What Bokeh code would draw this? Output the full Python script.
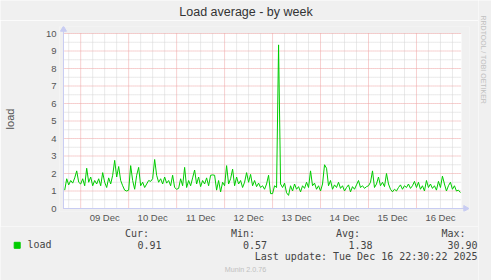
import math
import pandas as pd
from bokeh.plotting import figure
from bokeh.models import FixedTicker, Range1d, ColumnDataSource, GridBox
from bokeh.core.properties import value
from bokeh.embed import file_html
from bokeh.resources import INLINE

# ---------------- data (hourly load average) ----------------
start_time = "2025-12-08 16:00"
load_dec08 = [1.05, 1.7, 1.35, 1.6, 1.45, 1.75, 2.15, 1.5]
load_dec09 = [1.4, 1.7, 1.3, 2.3, 1.5, 1.8, 1.3, 1.6, 1.4, 1.7, 1.3, 2.05,
              1.5, 1.2, 1.75, 1.4, 1.9, 2.75, 1.8, 2.4, 1.6, 1.3, 1.05, 1.0]
load_dec10 = [1.05, 2.45, 1.6, 1.1, 1.9, 2.35, 1.3, 1.5, 1.2, 1.4, 1.6, 1.55,
              1.7, 2.8, 1.9, 1.5, 1.7, 1.4, 1.8, 1.45, 1.6, 1.3, 1.9, 1.2]
load_dec11 = [1.1, 1.15, 1.7, 1.3, 2.35, 1.2, 1.6, 1.3, 1.75, 2.2, 1.4, 1.8,
              1.25, 1.6, 1.4, 1.75, 1.3, 1.9, 1.92, 1.9, 1.05, 1.6, 0.95, 1.5]
load_dec12 = [1.3, 2.45, 1.4, 1.7, 2.25, 1.3, 1.8, 1.4, 1.6, 1.2, 1.5, 2.05,
              1.5, 1.95, 1.3, 1.6, 1.25, 1.45, 1.2, 1.3, 1.1, 1.4, 1.9, 0.85]
load_dec13 = [0.85, 1.3, 1.2, 9.35, 1.4, 1.2, 1.45, 0.9, 0.75, 1.3, 1.0, 1.4,
              1.1, 1.25, 0.95, 1.3, 1.15, 1.5, 1.2, 2.15, 1.3, 1.45, 1.1, 1.3]
load_dec14 = [1.0, 1.4, 2.5, 2.3, 1.3, 1.6, 1.1, 1.35, 1.2, 1.5, 1.15, 1.3,
              1.0, 1.2, 1.35, 0.95, 1.25, 1.1, 1.35, 1.6, 1.2, 1.3, 1.15, 1.25]
load_dec15 = [1.3, 1.5, 2.15, 1.2, 1.4, 1.8, 1.3, 1.5, 1.25, 2.0, 1.4, 1.1,
              0.95, 1.1, 1.0, 1.2, 1.35, 1.1, 1.3, 1.2, 1.4, 1.15, 1.3, 1.55]
load_dec16 = [1.2, 1.5, 1.1, 1.3, 1.0, 1.6, 1.2, 1.4, 1.15, 1.3, 1.05, 1.55,
              1.2, 1.85, 1.4, 1.0, 1.3, 1.5, 1.1, 1.3, 1.0, 1.05, 0.91]

day_dates = ["2025-12-09", "2025-12-10", "2025-12-11", "2025-12-12",
             "2025-12-13", "2025-12-14", "2025-12-15", "2025-12-16"]
day_labels = ["09 Dec", "10 Dec", "11 Dec", "12 Dec", "13 Dec", "14 Dec", "15 Dec", "16 Dec"]
y_ticks = [0, 1, 2, 3, 4, 5, 6, 7, 8, 9, 10]
y_minor = [0.5, 1.5, 2.5, 3.5, 4.5, 5.5, 6.5, 7.5, 8.5, 9.5]

view_start = "2025-12-08 15:23"
view_end = "2025-12-16 22:33"

legend_name = "load"
stat_names = ["Cur:", "Min:", "Avg:", "Max:"]
stat_values = ["0.91", "0.57", "1.38", "30.90"]
title_text = "Load average - by week"
last_update = "Last update: Tue Dec 16 22:30:22 2025"
footer = "Munin 2.0.76"
side_text = "RRDTOOL / TOBI OETIKER"

# ---------------- build ----------------
BG = "#f0f0f0"
AX = "#c8ccf2"
TXT = "#555555"
GREEN = "#00cc00"
RED_GRID = "#eea0a0"
GRAY_GRID = "#d4d4d4"


def ms(ts):
    return pd.Timestamp(ts).value / 1e6


def text_fig(w, h):
    f = figure(width=w, height=h, output_backend="svg", toolbar_location=None,
               x_range=Range1d(0, w), y_range=Range1d(h, 0),
               x_axis_type=None, y_axis_type=None, frame_align=False,
               min_border_left=0, min_border_right=0, min_border_top=0, min_border_bottom=0)
    f.grid.visible = False
    f.outline_line_color = None
    f.border_fill_color = BG
    f.background_fill_color = BG
    return f


HOUR = 3600 * 1000.0
values = (load_dec08 + load_dec09 + load_dec10 + load_dec11 + load_dec12 +
          load_dec13 + load_dec14 + load_dec15 + load_dec16)
x = [ms(start_time) + i * HOUR for i in range(len(values))]
src = ColumnDataSource(dict(x=x, y=values))

LEFT_W = 478
x0, x1 = ms(view_start), ms(view_end)
PX = (x1 - x0) / 400.0      # ms per pixel
PY = 1 / 17.5               # load units per pixel
p = figure(width=LEFT_W, height=206, output_backend="svg", toolbar_location=None,
           x_range=Range1d(x0 - 4 * PX, x1 + 8 * PX),
           y_range=Range1d(-3 * PY, 10 + 7 * PY), frame_align=False,
           min_border_left=57, min_border_right=9, min_border_top=6, min_border_bottom=15)
p.border_fill_color = BG
p.background_fill_color = BG
p.outline_line_color = None
p.xgrid.visible = False
p.ygrid.visible = False

# white plotting area
p.quad(left=[x0], right=[x1], bottom=[0], top=[10], fill_color="#ffffff", line_color=None)

# grid lines
mid = [ms(d) for d in day_dates]
six = [ms("2025-12-08 18:00") + i * 6 * HOUR for i in range(34)]
six = [t for t in six if t not in mid and x0 < t < x1]
p.segment(x0=six, x1=six, y0=[0] * len(six), y1=[10] * len(six),
          line_color=GRAY_GRID, line_dash="1 1", line_width=1)
p.segment(x0=[x0] * len(y_minor), x1=[x1] * len(y_minor), y0=y_minor, y1=y_minor,
          line_color=GRAY_GRID, line_dash="1 1", line_width=1)
p.segment(x0=mid, x1=mid, y0=[0] * len(mid), y1=[10] * len(mid),
          line_color=RED_GRID, line_dash="1 1", line_width=1)
p.segment(x0=[x0] * len(y_ticks), x1=[x1] * len(y_ticks), y0=y_ticks, y1=y_ticks,
          line_color=RED_GRID, line_dash="1 1", line_width=1)

p.line("x", "y", source=src, line_color=GREEN, line_width=1)

# axis rules with arrow heads (the axes below carry the tick labels)
p.segment(x0=[x0, x0], x1=[x1 + 4 * PX, x0], y0=[0, 0], y1=[0, 10 + 4 * PY],
          line_color=AX, line_width=1)
p.scatter(x=[x1 + 4 * PX], y=[0], marker="triangle", size=6, angle=-math.pi / 2,
          fill_color=AX, line_color=AX)
p.scatter(x=[x0], y=[10 + 4 * PY], marker="triangle", size=6, angle=0,
          fill_color=AX, line_color=AX)

# axes
noon = [ms(d) + 12 * HOUR for d in day_dates]
p.xaxis.ticker = FixedTicker(ticks=noon)
p.xaxis.major_label_overrides = {t: l for t, l in zip(noon, day_labels)}
p.yaxis.ticker = FixedTicker(ticks=y_ticks)
p.yaxis.axis_label = "load"
p.yaxis.axis_label_standoff = 27
p.yaxis.axis_label_text_font_style = "normal"
p.yaxis.axis_label_text_font = "Liberation Sans"
p.yaxis.axis_label_text_font_size = "11px"
p.yaxis.axis_label_text_color = TXT
for ax in (p.xaxis[0], p.yaxis[0]):
    ax.axis_line_color = None
    ax.major_tick_line_color = None
    ax.minor_tick_line_color = None
    ax.major_tick_out = 0
    ax.major_tick_in = 0
    ax.minor_tick_out = 0
    ax.minor_tick_in = 0
    ax.major_label_text_font = "Liberation Sans"
    ax.major_label_text_font_size = "9.5px"
    ax.major_label_text_color = TXT
p.xaxis.major_label_standoff = 0
p.yaxis.major_label_standoff = 3

# ---- title strip (canvas y 0..20) ----
t = text_fig(LEFT_W, 20)
t.text(x=[245.5], y=[11.7], text=[title_text], text_font=value("Liberation Sans"),
       text_font_size=value("12.5px"), text_color="#333333",
       text_align="center", text_baseline="middle")

# ---- legend strip (canvas y 226..280) ----
lg = text_fig(LEFT_W, 54)
OY = 226
mono = dict(text_font=value("DejaVu Sans Mono"), text_font_size=value("10px"),
            text_color="#444444", text_baseline="middle")
lg.scatter(x=[16.7], y=[244.8 - OY], marker="square", size=6, fill_color=GREEN,
           line_color=GREEN)
lg.text(x=[27], y=[244.3 - OY], text=[legend_name], text_align="left", **mono)
head_right = [148.5, 254.5, 359.5, 465]
val_right = [161, 266.5, 372, 477]
lg.text(x=head_right, y=[233.3 - OY] * 4, text=stat_names, text_align="right", **mono)
lg.text(x=val_right, y=[244.3 - OY] * 4, text=stat_values, text_align="right", **mono)
lg.text(x=[477], y=[256 - OY], text=[last_update], text_align="right", **mono)
lg.text(x=[245], y=[268.5 - OY], text=[footer], text_font=value("Liberation Sans"),
        text_font_size=value("7.2px"), text_color="#c0c0c0",
        text_align="center", text_baseline="middle")

# ---- right strip (full height) ----
SIDE_W = 491 - LEFT_W
sd = text_fig(SIDE_W, 280)
sd.text(x=[483 - LEFT_W], y=[15], text=[side_text], text_font=value("Liberation Sans"),
        text_font_size=value("7px"), text_color="#c0c0c0",
        text_align="left", text_baseline="middle", angle=-1.5708)

layout = GridBox(children=[(t, 0, 0), (p, 1, 0), (lg, 2, 0), (sd, 0, 1, 3, 1)], spacing=0)

open("out.html", "w").write(file_html(layout, INLINE))
